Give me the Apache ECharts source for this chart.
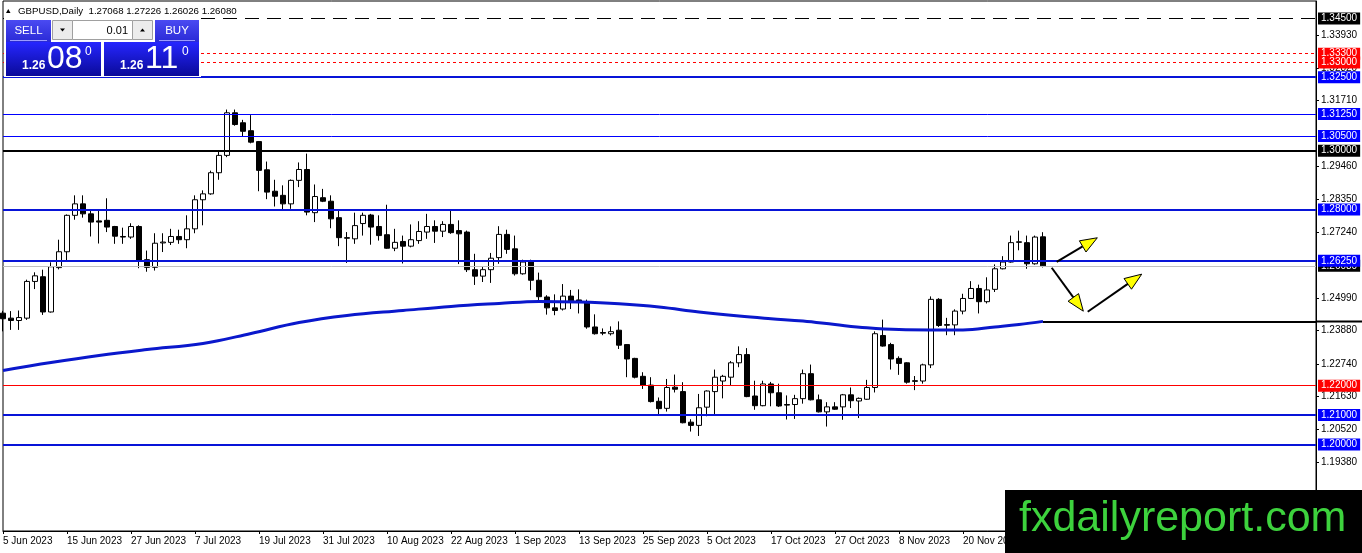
<!DOCTYPE html>
<html><head><meta charset="utf-8">
<script src="https://cdn.jsdelivr.net/npm/echarts@6/dist/echarts.min.js"></script>
<style>html,body{margin:0;padding:0;background:#fff}#c{width:1362px;height:553px}</style>
</head><body><div id="c"></div>
<script>
// ---- data ----
const opens = [
1.2447,1.2430,1.2422,1.2430,1.2555,1.2571,1.2451,1.2602,1.2656,1.2780,
1.2819,1.2785,1.2761,1.2763,1.2742,1.2708,1.2706,1.2742,1.2629,1.2603,
1.2686,1.2688,1.2708,1.2697,1.2734,1.2833,1.2853,1.2925,1.2984,1.3129,
1.3095,1.3068,1.3031,1.2935,1.2862,1.2848,1.2819,1.2899,1.2936,1.2789,
1.2840,1.2828,1.2772,1.2704,1.2700,1.2752,1.2781,1.2742,1.2714,1.2668,
1.2691,1.2675,1.2694,1.2723,1.2742,1.2726,1.2749,1.2728,1.2723,1.2595,
1.2573,1.2595,1.2636,1.2715,1.2666,1.2581,1.2624,1.2559,1.2502,1.2465,
1.2461,1.2505,1.2492,1.2482,1.2400,1.2381,1.2377,1.2389,1.2340,1.2293,
1.2232,1.2202,1.2147,1.2123,1.2195,1.2180,1.2076,1.2065,1.2127,1.2180,
1.2216,1.2229,1.2278,1.2306,1.2165,1.2132,1.2206,1.2176,1.2136,1.2136,
1.2156,1.2241,1.2152,1.2111,1.2128,1.2128,1.2169,1.2148,1.2154,1.2194,
1.2371,1.2340,1.2293,1.2278,1.2217,1.2216,1.2271,1.2494,1.2408,1.2407,
1.2454,1.2497,1.2531,1.2486,1.2528,1.2598,1.2621,1.2688,1.2687,1.2615,
1.27068];
const highs = [
1.2455,1.2454,1.2456,1.2561,1.2586,1.2595,1.2620,1.2697,1.2783,1.2848,
1.2848,1.2801,1.2797,1.2838,1.2744,1.2738,1.2753,1.2746,1.2660,1.2719,
1.2719,1.2734,1.2731,1.2780,1.2848,1.2865,1.2932,1.3001,1.3140,1.3140,
1.3105,1.3121,1.3033,1.2963,1.2901,1.2882,1.2902,1.2960,1.2990,1.2885,
1.2870,1.2848,1.2799,1.2723,1.2789,1.2789,1.2785,1.2780,1.2816,1.2734,
1.2711,1.2749,1.2760,1.2785,1.2763,1.2760,1.2797,1.2763,1.2728,1.2649,
1.2604,1.2652,1.2743,1.2731,1.2711,1.2629,1.2629,1.2585,1.2508,1.2511,
1.2546,1.2526,1.2528,1.2493,1.2443,1.2395,1.2402,1.2419,1.2341,1.2295,
1.2246,1.2229,1.2160,1.2223,1.2238,1.2212,1.2086,1.2172,1.2184,1.2255,
1.2237,1.2284,1.2334,1.2328,1.2217,1.2217,1.2213,1.2207,1.2167,1.2169,
1.2255,1.2272,1.2170,1.2144,1.2144,1.2172,1.2194,1.2160,1.2220,1.2385,
1.2425,1.2346,1.2300,1.2280,1.2233,1.2275,1.2504,1.2498,1.2431,1.2460,
1.2513,1.2556,1.2544,1.2569,1.2613,1.2641,1.2711,1.2728,1.2711,1.2711,
1.27226];
const lows = [
1.2385,1.2390,1.2390,1.2424,1.2529,1.2441,1.2449,1.2596,1.2626,1.2765,
1.2772,1.2708,1.2684,1.2723,1.2683,1.2683,1.2700,1.2600,1.2588,1.2592,
1.2655,1.2679,1.2683,1.2668,1.2719,1.2746,1.2850,1.2901,1.2978,1.3085,
1.3049,1.3025,1.2862,1.2835,1.2810,1.2797,1.2802,1.2876,1.2780,1.2757,
1.2825,1.2736,1.2675,1.2618,1.2683,1.2711,1.2680,1.2694,1.2666,1.2658,
1.2616,1.2671,1.2683,1.2700,1.2686,1.2706,1.2717,1.2614,1.2587,1.2543,
1.2553,1.2550,1.2615,1.2649,1.2575,1.2578,1.2525,1.2484,1.2442,1.2440,
1.2456,1.2461,1.2446,1.2394,1.2374,1.2372,1.2371,1.2325,1.2229,1.2225,
1.2189,1.2143,1.2103,1.2112,1.2177,1.2072,1.2044,1.2029,1.2096,1.2098,
1.2157,1.2202,1.2263,1.2161,1.2118,1.2130,1.2130,1.2128,1.2085,1.2087,
1.2139,1.2150,1.2109,1.2061,1.2118,1.2084,1.2124,1.2090,1.2152,1.2177,
1.2333,1.2255,1.2237,1.2207,1.2185,1.2207,1.2260,1.2400,1.2372,1.2372,
1.2443,1.2495,1.2446,1.2480,1.2519,1.2596,1.2619,1.2661,1.2598,1.2612,
1.26026];
const closes = [
1.2428,1.2422,1.2432,1.2555,1.2574,1.2451,1.2605,1.2656,1.2780,1.2819,
1.2785,1.2757,1.2757,1.2740,1.2709,1.2706,1.2742,1.2624,1.2603,1.2685,
1.2689,1.2708,1.2697,1.2734,1.2833,1.2853,1.2925,1.2984,1.3129,1.3089,
1.3066,1.3029,1.2933,1.2859,1.2845,1.2819,1.2899,1.2936,1.2791,1.2844,
1.2828,1.2768,1.2704,1.2702,1.2745,1.2780,1.2740,1.2711,1.2668,1.2688,
1.2675,1.2697,1.2725,1.2742,1.2726,1.2749,1.2721,1.2717,1.2595,1.2573,
1.2595,1.2634,1.2715,1.2664,1.2581,1.2621,1.2559,1.2503,1.2465,1.2456,
1.2505,1.2489,1.2484,1.2400,1.2377,1.2379,1.2384,1.2338,1.2291,1.2229,
1.2202,1.2146,1.2122,1.2194,1.2188,1.2074,1.2065,1.2125,1.2182,1.2229,
1.2232,1.2278,1.2306,1.2163,1.2132,1.2206,1.2176,1.2131,1.2134,1.2156,
1.2241,1.2152,1.2111,1.2128,1.2120,1.2169,1.2149,1.2157,1.2194,1.2377,
1.2335,1.2291,1.2276,1.2212,1.2215,1.2271,1.2494,1.2405,1.2406,1.2454,
1.2497,1.2531,1.2486,1.2526,1.2598,1.2621,1.2687,1.2690,1.2615,1.2706,
1.26080];
// moving average, read at selected bars
const maBar   = [0,6,12,18,25,31,37,43,50,56,62,67,72,77,82,87,92,96,100,104,108,112,116,120,124,127,130];
const maValue = [1.2252,1.2279,1.2303,1.2323,1.2344,1.2378,1.2415,1.2439,1.2456,1.2470,1.2480,1.2487,1.2485,1.2479,1.2468,1.2451,1.2437,1.2428,1.2420,1.2408,1.2397,1.2391,1.2390,1.2390,1.2400,1.2408,1.2419];
// horizontal levels
const levelPrices = [1.3450,1.3330,1.3300,1.3250,1.3125,1.3050,1.3000,1.2800,1.2625,1.2200,1.2100,1.2000];
const levelKinds  = ['black-dash','red-dash','red-dash','blue','blue-thin','blue-thin','black','blue','blue','red','blue','blue'];
const bidPrice = 1.26080;
const rayPrice = 1.2419, rayFromBar = 130;
// right price-scale ticks
const yTickValues = [1.3393,1.3282,1.3171,1.2946,1.2835,1.2724,1.2499,1.2388,1.2274,1.2163,1.2052,1.1938];
// date labels, one every 8 bars
const xTickLabels = ['5 Jun 2023','15 Jun 2023','27 Jun 2023','7 Jul 2023','19 Jul 2023','31 Jul 2023','10 Aug 2023','22 Aug 2023','1 Sep 2023','13 Sep 2023','25 Sep 2023','5 Oct 2023','17 Oct 2023','27 Oct 2023','8 Nov 2023','20 Nov 2023','30 Nov 2023'];
const xTickStep = 8;
// yellow arrows [bar, price]
const arrowFrom = [[131.71,1.26219],[131.09,1.26015],[135.59,1.24517]];
const arrowTo   = [[136.79,1.27036],[135.04,1.24537],[142.34,1.25797]];

// ---- styles ----
const FONT = '"Liberation Sans", Arial, sans-serif';
const BLUE = '#0814d8';
const kindStyle = {
  'black-dash': {line:{color:'#000', width:1, type:[14,8]}, bg:'#000'},
  'red-dash':   {line:{color:'#ff0000', width:1, type:[3,3]}, bg:'#ff0000'},
  'blue':       {line:{color:BLUE, width:2, type:'solid'}, bg:'#0000ff'},
  'blue-thin':  {line:{color:'#0000ff', width:1, type:'solid'}, bg:'#0000ff'},
  'black':      {line:{color:'#000', width:2, type:'solid'}, bg:'#000'},
  'red':        {line:{color:'#ff0000', width:1.2, type:'solid'}, bg:'#ff0000'}
};
function boxLabel(text, bg) {
  return {show:true, position:'end', distance:2, formatter:text, color:'#fff', backgroundColor:bg,
          padding:[1,3,1,3], fontSize:10, fontFamily:FONT, lineHeight:10};
}
const markData = [];
markData.push({yAxis:bidPrice, lineStyle:{color:'#c0c0c0', width:1, type:'solid'}, label:boxLabel(bidPrice.toFixed(5), '#000')});
levelPrices.forEach((p,i)=>{
  const s = kindStyle[levelKinds[i]];
  markData.push({yAxis:p, lineStyle:s.line, label:boxLabel(p.toFixed(5), s.bg)});
});
markData.push([
  {coord:[rayFromBar, rayPrice], lineStyle:{color:'#000', width:2, type:'solid'},
   label:{show:true, position:'end', distance:0, formatter:'{b| }', rich:{b:{width:46, height:2, backgroundColor:'#000', fontSize:1, lineHeight:2}}}},
  {coord:[164.125, rayPrice]}
]);

const xTickPos = xTickLabels.map((_,i)=>i*xTickStep);

const chart = echarts.init(document.getElementById('c'), null, {renderer:'canvas'});
const grad = (a,b)=>new echarts.graphic.LinearGradient(0,0,0,1,[{offset:0,color:a},{offset:1,color:b}]);
const Z = 100;
chart.setOption({
  animation:false,
  backgroundColor:'#fff',
  grid:{left:3, right:46, top:1, bottom:22, show:true, borderColor:'#000', borderWidth:1, backgroundColor:'#fff'},
  xAxis:{type:'value', min:0, max:164.125,
    axisLine:{show:true, onZero:false, lineStyle:{color:'#000', width:1}},
    axisTick:{show:true, length:3, customValues:xTickPos, lineStyle:{color:'#000'}},
    axisLabel:{customValues:xTickPos, formatter:v=>xTickLabels[Math.round(v/xTickStep)]||'', align:'left',
               color:'#000', fontSize:10, fontFamily:FONT, margin:5},
    splitLine:{show:false}},
  yAxis:{type:'value', position:'right', min:1.17055, max:1.35095,
    axisLine:{show:true, onZero:false, lineStyle:{color:'#000', width:1}},
    axisTick:{show:true, length:3, customValues:yTickValues, lineStyle:{color:'#000'}},
    axisLabel:{customValues:yTickValues, formatter:v=>v.toFixed(5), color:'#000', fontSize:10, fontFamily:FONT, margin:5},
    splitLine:{show:false}},
  series:[
    {type:'candlestick', data:opens.map((o,i)=>[i, o, closes[i], lows[i], highs[i]]),
     barWidth:5, itemStyle:{color:'#fff', color0:'#000', borderColor:'#000', borderColor0:'#000', borderWidth:1}, silent:true},
    {type:'line', data:maBar.map((b,i)=>[b, maValue[i]]), smooth:0.4, symbol:'none',
     lineStyle:{color:'#0a18cc', width:3}, silent:true},
    {type:'line', data:[], clip:false, silent:true,
     markLine:{silent:true, symbol:'none', animation:false, precision:6, data:markData}},
    {type:'custom', clip:false, silent:true, z:10,
     data:arrowFrom.map((f,i)=>[f[0], f[1], arrowTo[i][0], arrowTo[i][1]]),
     encode:{x:[0,2], y:[1,3]},
     renderItem:(params, api)=>{
       const a = api.coord([api.value(0), api.value(1)]);
       const b = api.coord([api.value(2), api.value(3)]);
       const dx=b[0]-a[0], dy=b[1]-a[1], len=Math.hypot(dx,dy), ux=dx/len, uy=dy/len;
       const hl=17, hw=6.5, bx=b[0]-ux*hl, by=b[1]-uy*hl;
       return {type:'group', children:[
         {type:'line', shape:{x1:a[0], y1:a[1], x2:bx, y2:by}, style:{stroke:'#000', lineWidth:2}},
         {type:'polygon', shape:{points:[[b[0],b[1]],[bx-uy*hw, by+ux*hw],[bx+uy*hw, by-ux*hw]]},
          style:{fill:'#ffff00', stroke:'#000', lineWidth:1}}
       ]};
     }}
  ],
  graphic:[
    // header
    {type:'polygon', z:Z, shape:{points:[[6,13],[10.5,13],[8.25,9]]}, style:{fill:'#000'}},
    {type:'text', z:Z, style:{text:'GBPUSD,Daily  1.27068 1.27226 1.26026 1.26080', x:18, y:11, fill:'#000',
      font:'9.7px '+FONT, textAlign:'left', textVerticalAlign:'middle', align:'left', verticalAlign:'middle'}},
    // one-click panel backdrop
    {type:'rect', z:Z, shape:{x:4, y:16, width:197, height:61}, style:{fill:'#fff'}},
    // SELL
    {type:'rect', z:Z, shape:{x:6, y:20, width:45, height:22}, style:{fill:grad('#4a4af2','#2a2ad6')}},
    {type:'line', z:Z, shape:{x1:10, y1:40.5, x2:47, y2:40.5}, style:{stroke:'#9c9cff', lineWidth:1}},
    {type:'text', z:Z, style:{text:'SELL', x:28.5, y:30.5, fill:'#fff', font:'11.5px '+FONT,
      textAlign:'center', textVerticalAlign:'middle', align:'center', verticalAlign:'middle'}},
    // lot size control
    {type:'rect', z:Z, shape:{x:52.5, y:20.5, width:20, height:19}, style:{fill:'#ececec', stroke:'#a0a0a0', lineWidth:1}},
    {type:'polygon', z:Z, shape:{points:[[60,28.5],[65,28.5],[62.5,31.5]]}, style:{fill:'#000'}},
    {type:'rect', z:Z, shape:{x:72.5, y:20.5, width:60, height:19}, style:{fill:'#fff', stroke:'#a0a0a0', lineWidth:1}},
    {type:'text', z:Z, style:{text:'0.01', x:128, y:30.5, fill:'#000', font:'11px '+FONT,
      textAlign:'right', textVerticalAlign:'middle', align:'right', verticalAlign:'middle'}},
    {type:'rect', z:Z, shape:{x:132.5, y:20.5, width:20, height:19}, style:{fill:'#ececec', stroke:'#a0a0a0', lineWidth:1}},
    {type:'polygon', z:Z, shape:{points:[[140,31.5],[145,31.5],[142.5,28.5]]}, style:{fill:'#000'}},
    // BUY
    {type:'rect', z:Z, shape:{x:155, y:20, width:44, height:22}, style:{fill:grad('#4a4af2','#2a2ad6')}},
    {type:'line', z:Z, shape:{x1:159, y1:40.5, x2:195, y2:40.5}, style:{stroke:'#9c9cff', lineWidth:1}},
    {type:'text', z:Z, style:{text:'BUY', x:177, y:30.5, fill:'#fff', font:'11.5px '+FONT,
      textAlign:'center', textVerticalAlign:'middle', align:'center', verticalAlign:'middle'}},
    // price boxes
    {type:'rect', z:Z, shape:{x:6, y:42, width:95, height:34}, style:{fill:grad('#2626ff','#0a0a98')}},
    {type:'rect', z:Z, shape:{x:104, y:42, width:95, height:34}, style:{fill:grad('#2626ff','#0a0a98')}},
    {type:'text', z:Z+1, style:{text:'1.26', x:22, y:66, fill:'#fff', font:'bold 12px '+FONT, textAlign:'left', textVerticalAlign:'middle', align:'left', verticalAlign:'middle'}},
    {type:'text', z:Z+1, style:{text:'08', x:47, y:59, fill:'#fff', font:'32px '+FONT, textAlign:'left', textVerticalAlign:'middle', align:'left', verticalAlign:'middle'}},
    {type:'text', z:Z+1, style:{text:'0', x:85, y:51.5, fill:'#fff', font:'12px '+FONT, textAlign:'left', textVerticalAlign:'middle', align:'left', verticalAlign:'middle'}},
    {type:'text', z:Z+1, style:{text:'1.26', x:120, y:66, fill:'#fff', font:'bold 12px '+FONT, textAlign:'left', textVerticalAlign:'middle', align:'left', verticalAlign:'middle'}},
    {type:'text', z:Z+1, style:{text:'11', x:145, y:59, fill:'#fff', font:'32px '+FONT, textAlign:'left', textVerticalAlign:'middle', align:'left', verticalAlign:'middle'}},
    {type:'text', z:Z+1, style:{text:'0', x:182, y:51.5, fill:'#fff', font:'12px '+FONT, textAlign:'left', textVerticalAlign:'middle', align:'left', verticalAlign:'middle'}},
    // watermark
    {type:'rect', z:Z, shape:{x:1005, y:490, width:357, height:63}, style:{fill:'#000'}},
    {type:'text', z:Z+1, style:{text:'fxdailyreport.com', x:1019, y:519, fill:'#3dd23d', font:'43px '+FONT,
      textAlign:'left', textVerticalAlign:'middle', align:'left', verticalAlign:'middle'}}
  ]
});
</script></body></html>
